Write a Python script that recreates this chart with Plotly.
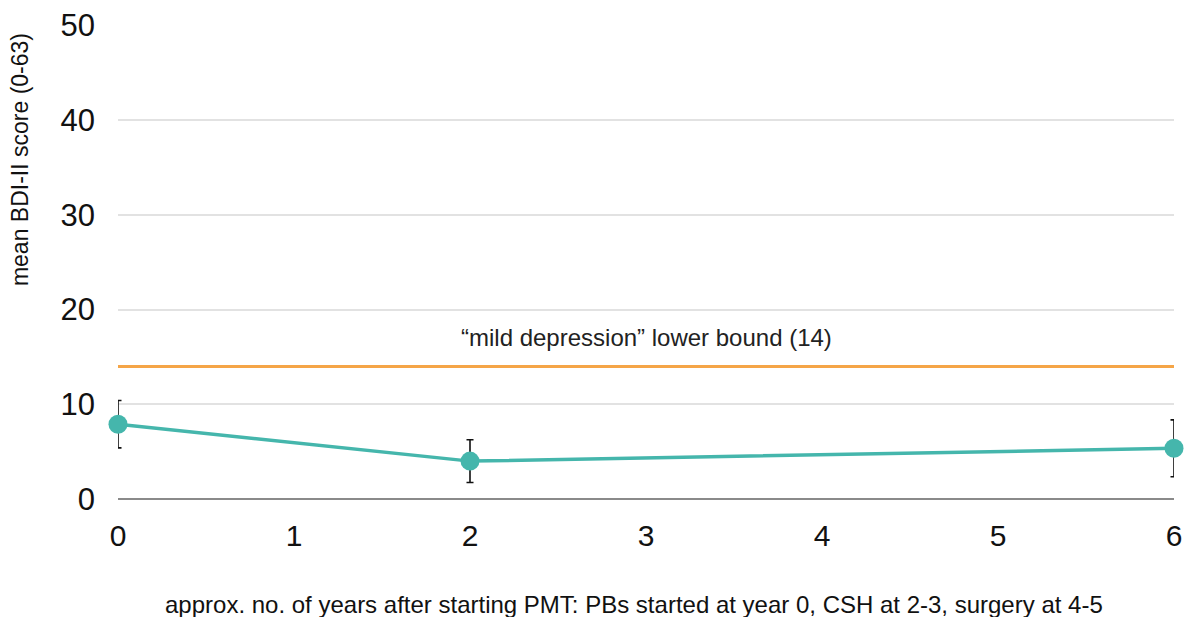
import plotly.graph_objects as go

years = [0, 2, 6]
bdi_mean = [7.9, 4.0, 5.35]
bdi_err = [2.5, 2.25, 3.0]
threshold_x = [0, 6]
threshold_y = [14, 14]
threshold_label = "“mild depression” lower bound (14)"
x_ticks = [0, 1, 2, 3, 4, 5, 6]
y_ticks = [0, 10, 20, 30, 40, 50]
x_title = "approx. no. of years after starting PMT: PBs started at year 0, CSH at 2-3, surgery at 4-5"
y_title = "mean BDI-II score (0-63)"

font_family = "Liberation Sans, Arial, Helvetica, sans-serif"

fig = go.Figure()
fig.add_trace(go.Scatter(
    x=threshold_x, y=threshold_y, mode="lines",
    line=dict(color="#F5A547", width=3),
    hoverinfo="skip", showlegend=False, cliponaxis=False,
))
fig.add_trace(go.Scatter(
    x=years, y=bdi_mean, mode="lines+markers",
    line=dict(color="#45B6AC", width=3.5),
    marker=dict(color="#45B6AC", size=19),
    error_y=dict(type="data", array=bdi_err, color="#111111", thickness=1.6, width=3.5),
    showlegend=False, cliponaxis=False,
))
fig.add_annotation(
    x=3, y=14, yref="y", xref="x", text=threshold_label, showarrow=False,
    yshift=29, font=dict(family=font_family, size=24, color="#222222"),
)
fig.add_annotation(
    x=-0.0928, y=0.715, xref="paper", yref="paper", text=y_title, showarrow=False,
    textangle=-90, xanchor="center", yanchor="middle",
    font=dict(family=font_family, size=23, color="#111111"),
)
fig.add_annotation(
    x=0.4886, y=-0.2236, xref="paper", yref="paper", text=x_title, showarrow=False,
    xanchor="center", yanchor="middle",
    font=dict(family=font_family, size=24, color="#111111"),
)
fig.update_layout(
    width=1186, height=617,
    margin=dict(l=118, r=12, t=25, b=118, autoexpand=False),
    paper_bgcolor="white", plot_bgcolor="white",
    font=dict(family=font_family, color="#111111"),
    xaxis=dict(
        range=[0, 6], tickvals=x_ticks, showgrid=False, zeroline=False,
        showline=False, ticks="", tickfont=dict(size=30, color="#111111"),
        ticklabelstandoff=16, automargin=False,
    ),
    yaxis=dict(
        range=[0, 50.05], tickvals=y_ticks, showgrid=True, gridcolor="#E2E2E2", gridwidth=1.5,
        zeroline=True, zerolinecolor="#8A8A8A", zerolinewidth=1.5,
        showline=False, ticks="", tickfont=dict(size=31, color="#111111"),
        ticklabelstandoff=22, automargin=False,
    ),
)
fig.write_html("out.html", config={"displayModeBar": False})

with open("out.html", "r", encoding="utf-8") as f:
    html = f.read()
html = html.replace("<head>", "<head><style>html,body{margin:0;padding:0;overflow:hidden;}</style>", 1)
with open("out.html", "w", encoding="utf-8") as f:
    f.write(html)
